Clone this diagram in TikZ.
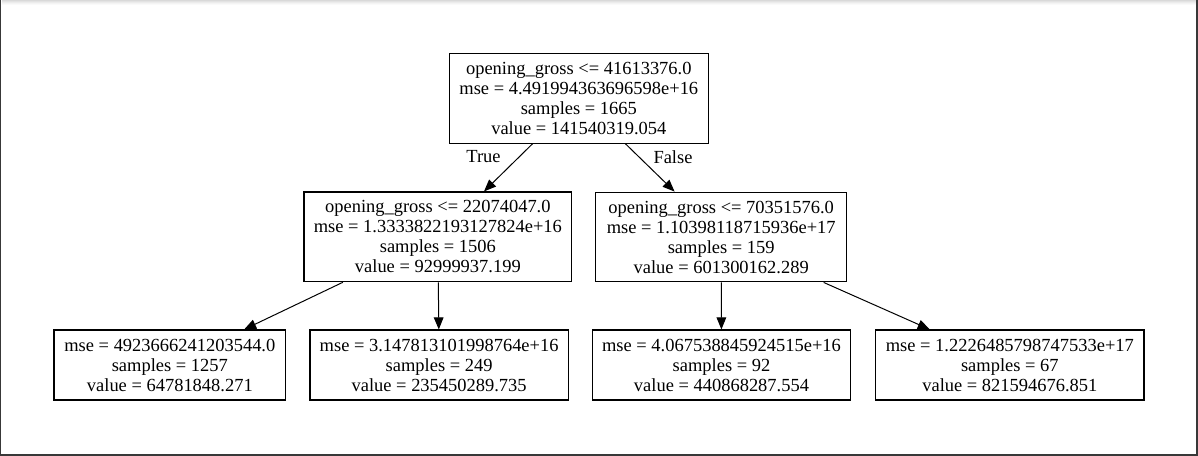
\documentclass[tikz,border=0pt]{standalone}
\usepackage{fontspec}
\setmainfont{Liberation Serif}
\usetikzlibrary{arrows.meta}
\begin{document}
\begin{tikzpicture}[x=0.75pt,y=-0.75pt,
  treenode/.style={draw=black, line width=0.85pt, inner sep=0pt, align=center,
    font=\fontsize{13.85}{15}\selectfont},
  splitbox/.style={treenode, minimum height=67.3pt},
  leafbox/.style={treenode, minimum height=52.5pt},
  edgelabel/.style={inner sep=0pt, font=\fontsize{13.85}{15}\selectfont},
  branch/.style={line width=0.75pt, -{Triangle[length=9pt,width=7.2pt]}}]
\useasboundingbox (0,0) rectangle (1198,456);
% page frame
\fill[white] (0,0) rectangle (1198,456);
\foreach \yy/\cc in {0.5/30,1.5/22,2.5/15,3.5/9,4.5/4}
  \draw[gray!\cc, line width=0.75pt] (1.5,\yy) -- (1196,\yy);
\fill[black!78] (0,0) rectangle (1.4,456);
\fill[black!78] (1196,0) rectangle (1198,456);
\fill[black!78] (0,454) rectangle (1198,456);

% splits
\node[splitbox, minimum width=194.3pt, minimum height=67.5pt] (root) at (578.8,98.3)
  {opening\_gross <= 41613376.0\\mse = 4.491994363696598e+16\\samples = 1665\\value = 141540319.054};
\node[splitbox, minimum width=200.8pt] (left) at (437.85,236.85)
  {opening\_gross <= 22074047.0\\mse = 1.3333822193127824e+16\\samples = 1506\\value = 92999937.199};
\node[splitbox, minimum width=188.3pt] (right) at (721.2,237)
  {opening\_gross <= 70351576.0\\mse = 1.10398118715936e+17\\samples = 159\\value = 601300162.289};

% leaves
\node[leafbox, minimum width=173.8pt] (leafA) at (169.85,365)
  {mse = 4923666241203544.0\\samples = 1257\\value = 64781848.271};
\node[leafbox, minimum width=193.7pt] (leafB) at (439.15,365)
  {mse = 3.147813101998764e+16\\samples = 249\\value = 235450289.735};
\node[leafbox, minimum width=193.8pt] (leafC) at (721.5,365)
  {mse = 4.067538845924515e+16\\samples = 92\\value = 440868287.554};
\node[leafbox, minimum width=201.2pt] (leafD) at (1009.85,365)
  {mse = 1.2226485798747533e+17\\samples = 67\\value = 821594676.851};

% branches
\draw[branch] (root) -- (left);
\draw[branch] (root) -- (right);
\draw[branch] (left) -- (leafA);
\draw[branch] (left) -- (leafB);
\draw[branch] (right) -- (leafC);
\draw[branch] (right) -- (leafD);

\node[edgelabel] (truelabel) at (483.5,157) {True};
\node[edgelabel] (falselabel) at (673,157) {False};
\end{tikzpicture}
\end{document}
